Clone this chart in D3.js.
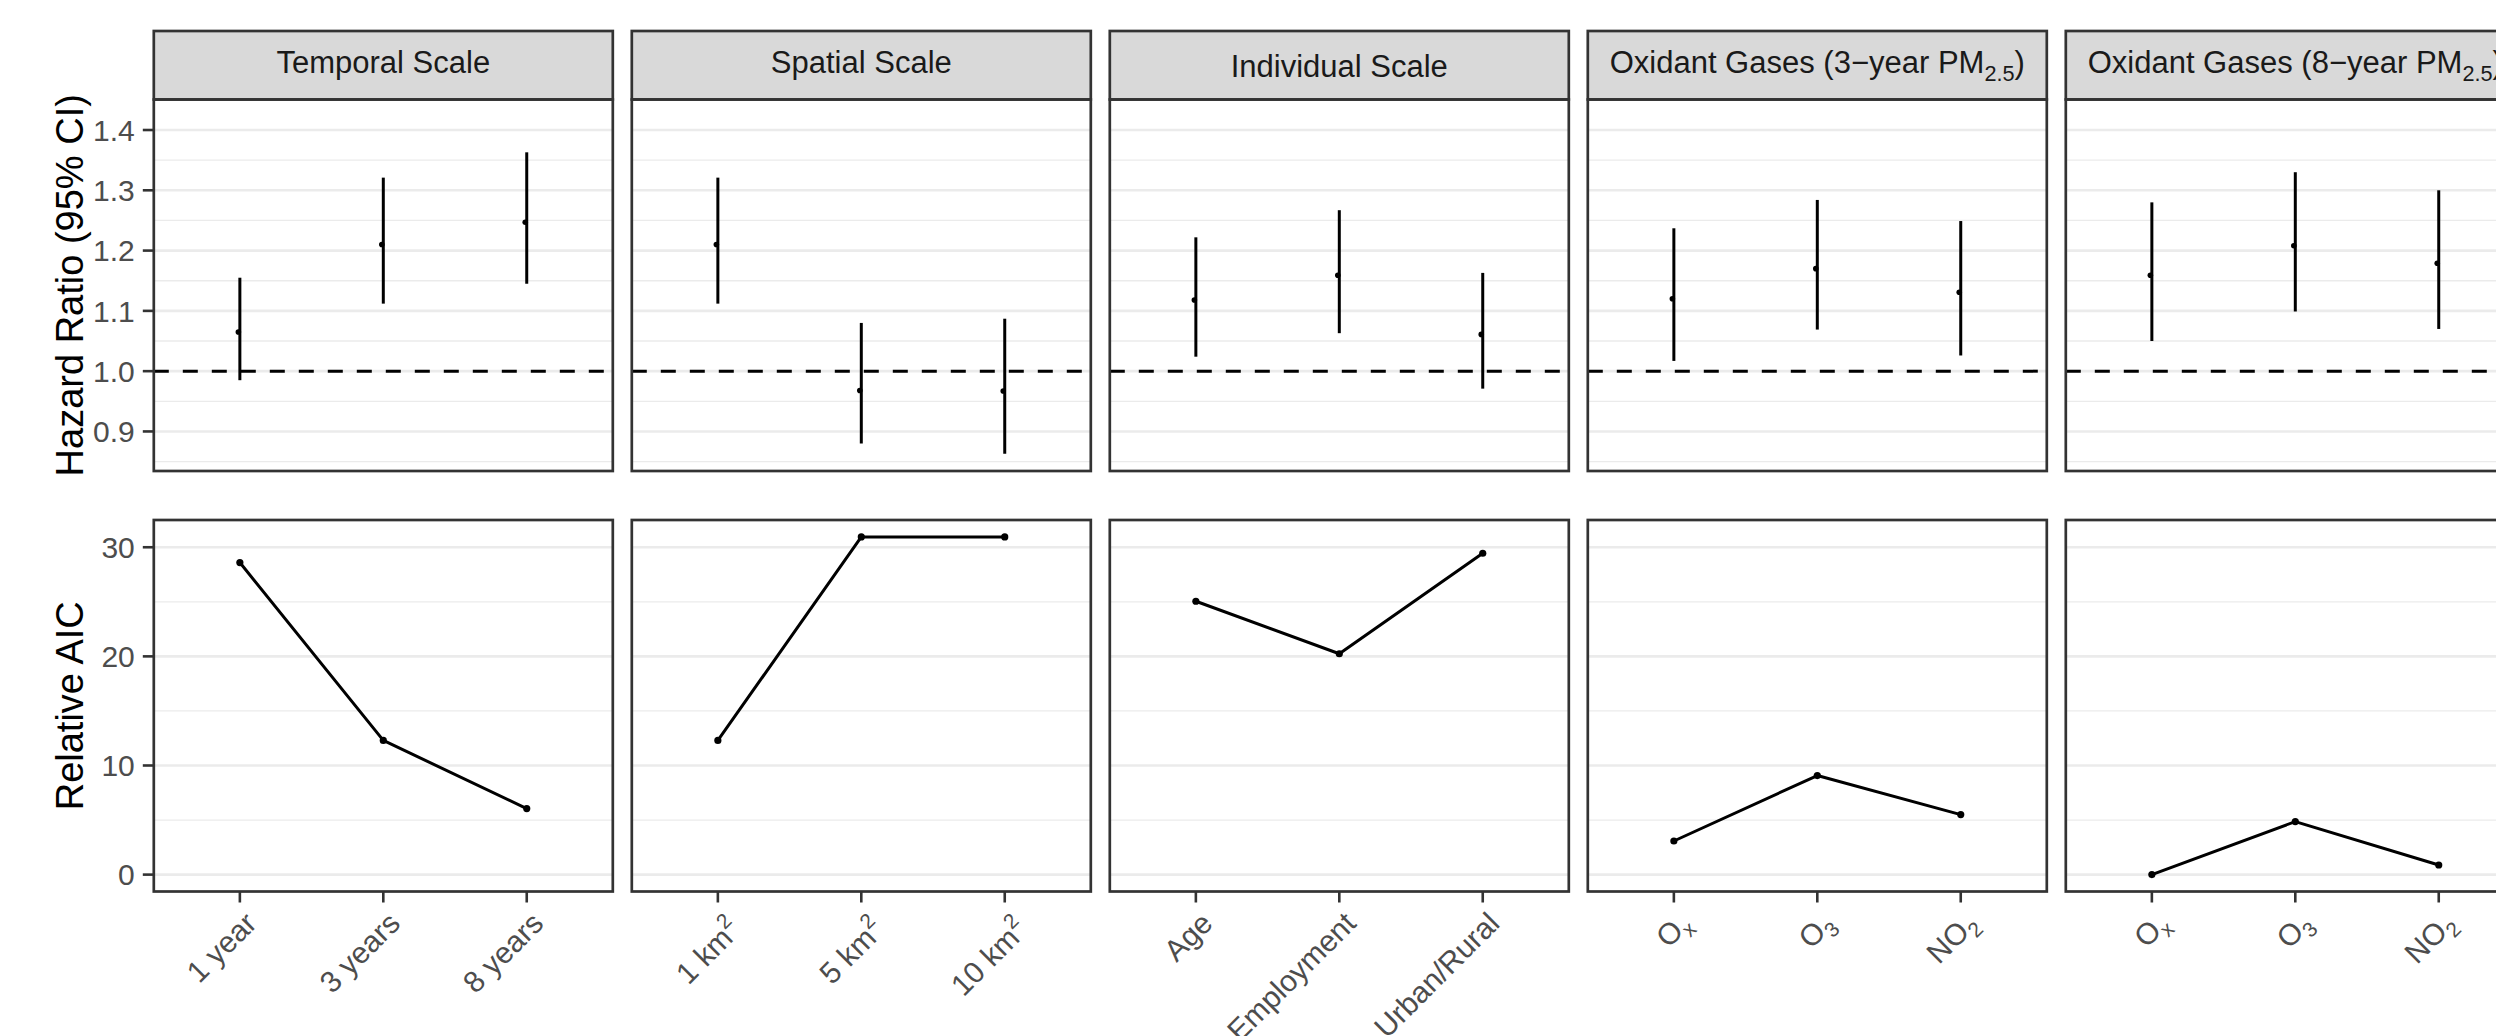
<!DOCTYPE html>
<html>
<head>
<meta charset="utf-8">
<script src="https://cdn.jsdelivr.net/npm/d3@7"></script>
<style>
  html, body { margin: 0; padding: 0; background: #fff; }
  svg { display: block; font-family: "Liberation Sans", Arial, Helvetica, sans-serif; }
</style>
</head>
<body>
<div id="chart"></div>
<script>
// Facet titles. _{..} = subscript, ^{..} = superscript
const facets = [
    'Temporal Scale',
    'Spatial Scale',
    'Individual Scale',
    'Oxidant Gases (3\u2212year PM_{2.5})',
    'Oxidant Gases (8\u2212year PM_{2.5})'
];

// Categories on the x axis of each facet
const temporalCats = ['1 year', '3 years', '8 years'];
const spatialCats = ['1 km^{2}', '5 km^{2}', '10 km^{2}'];
const individualCats = ['Age', 'Employment', 'Urban/Rural'];
const oxidantCats = ['O_{x}', 'O_{3}', 'NO_{2}'];

// Hazard ratios (point estimate, lower and upper 95% CI)
const temporalHR = [1.065, 1.210, 1.247];
const temporalLo = [0.985, 1.112, 1.145];
const temporalHi = [1.155, 1.321, 1.363];

const spatialHR = [1.210, 0.968, 0.967];
const spatialLo = [1.112, 0.880, 0.863];
const spatialHi = [1.321, 1.080, 1.087];

const individualHR = [1.118, 1.159, 1.061];
const individualLo = [1.024, 1.063, 0.971];
const individualHi = [1.222, 1.267, 1.163];

const oxidant3HR = [1.120, 1.170, 1.131];
const oxidant3Lo = [1.017, 1.069, 1.026];
const oxidant3Hi = [1.237, 1.284, 1.249];

const oxidant8HR = [1.159, 1.208, 1.179];
const oxidant8Lo = [1.050, 1.099, 1.070];
const oxidant8Hi = [1.280, 1.330, 1.300];

// Relative AIC
const temporalAIC = [28.6, 12.3, 6.05];
const spatialAIC = [12.3, 30.95, 30.95];
const individualAIC = [25.05, 20.24, 29.45];
const oxidant3AIC = [3.08, 9.08, 5.5];
const oxidant8AIC = [0, 4.86, 0.88];

// Axis breaks and shared HR limits
const hrLimits = [0.8624, 1.4226];
const hrTicks = [0.9, 1.0, 1.1, 1.2, 1.3, 1.4];
const hrMinor = [0.85, 0.95, 1.05, 1.15, 1.25, 1.35];
const aicTicks = [0, 10, 20, 30];
const aicMinor = [5, 15, 25];
const refLine = 1.0;

// Layout
const W = 2496, H = 1036;
const PANEL_LEFT = 153.8, PANEL_W = 459, PANEL_STEP = 478;
const STRIP_TOP = 31, STRIP_BOTTOM = 99.5;
const TOP_ROW = [99.5, 471];
const BOT_ROW = [520, 891.5];
const TICK = 11;
const FONT_TICK = 30, FONT_STRIP = 31, FONT_TITLE = 38;
const GREY20 = '#333333', GREY30 = '#4D4D4D', GRID = '#EBEBEB';

const panelCats = [temporalCats, spatialCats, individualCats, oxidantCats, oxidantCats];
const panelHR = [
    { est: temporalHR, lo: temporalLo, hi: temporalHi },
    { est: spatialHR, lo: spatialLo, hi: spatialHi },
    { est: individualHR, lo: individualLo, hi: individualHi },
    { est: oxidant3HR, lo: oxidant3Lo, hi: oxidant3Hi },
    { est: oxidant8HR, lo: oxidant8Lo, hi: oxidant8Hi }
];
const panelAIC = [temporalAIC, spatialAIC, individualAIC, oxidant3AIC, oxidant8AIC];

// ggplot-like 5% expansion
function expand(lo, hi, mult = 0.05) {
    const d = (hi - lo) * mult;
    return [lo - d, hi + d];
}

const allAIC = panelAIC.flat();
const hrY = d3.scaleLinear().domain(expand(hrLimits[0], hrLimits[1])).range([TOP_ROW[1], TOP_ROW[0]]);
const aicY = d3.scaleLinear().domain(expand(d3.min(allAIC), d3.max(allAIC))).range([BOT_ROW[1], BOT_ROW[0]]);

const svg = d3.select('#chart')
    .append('svg')
    .attr('width', W)
    .attr('height', H);

// Tight glyph box, used to centre strip text like grid does
const ctx = document.createElement('canvas').getContext('2d');
function tightMid(str, size) {
    ctx.font = `${size}px "Liberation Sans", Arial, sans-serif`;
    const m = ctx.measureText(str.replace(/[_^]\{([^}]*)\}/g, '$1'));
    return (m.actualBoundingBoxAscent - m.actualBoundingBoxDescent) / 2;
}

// Append label text with sub/superscripts as tspans
function addRich(textSel, label, size) {
    const parts = label.split(/(_\{[^}]*\}|\^\{[^}]*\})/).filter(s => s.length);
    let shift = 0;
    parts.forEach(p => {
        const t = textSel.append('tspan');
        if (p.startsWith('_{') || p.startsWith('^{')) {
            const s = p.startsWith('_{') ? 0.25 * size : -0.45 * size;
            t.text(p.slice(2, -1)).attr('font-size', size * 0.7).attr('dy', s - shift);
            shift = s;
        } else {
            t.text(p);
            if (shift) t.attr('dy', -shift);
            shift = 0;
        }
    });
}

function hLines(g, values, scale, width, strokeW) {
    g.selectAll(null)
        .data(values)
        .enter()
        .append('line')
        .attr('x1', 0)
        .attr('x2', width)
        .attr('y1', d => scale(d))
        .attr('y2', d => scale(d))
        .attr('stroke', GRID)
        .attr('stroke-width', strokeW);
}

facets.forEach((title, i) => {
    const x0 = PANEL_LEFT + i * PANEL_STEP;
    const cats = panelCats[i];
    const xScale = d3.scalePoint().domain(cats).range([0, PANEL_W]).padding(0.6);

    // ---- strip ----
    svg.append('rect')
        .attr('x', x0)
        .attr('y', STRIP_TOP)
        .attr('width', PANEL_W)
        .attr('height', STRIP_BOTTOM - STRIP_TOP)
        .attr('fill', '#D9D9D9')
        .attr('stroke', GREY20)
        .attr('stroke-width', 2.7);

    const stripText = svg.append('text')
        .attr('x', x0 + PANEL_W / 2)
        .attr('y', (STRIP_TOP + STRIP_BOTTOM) / 2 + tightMid(title, FONT_STRIP))
        .attr('text-anchor', 'middle')
        .attr('font-size', FONT_STRIP)
        .attr('fill', '#1A1A1A');
    addRich(stripText, title, FONT_STRIP);

    // ---- top row: hazard ratios ----
    const top = svg.append('g').attr('transform', `translate(${x0},0)`);
    hLines(top, hrMinor.filter(v => hrY(v) > TOP_ROW[0] && hrY(v) < TOP_ROW[1]), hrY, PANEL_W, 1.3);
    hLines(top, hrTicks, hrY, PANEL_W, 2.6);

    top.append('line')
        .attr('x1', 0)
        .attr('x2', PANEL_W)
        .attr('y1', hrY(refLine))
        .attr('y2', hrY(refLine))
        .attr('stroke', '#000')
        .attr('stroke-width', 3)
        .attr('stroke-dasharray', '15,14');

    const hr = panelHR[i];
    const hrData = cats.map((c, k) => ({ cat: c, est: hr.est[k], lo: hr.lo[k], hi: hr.hi[k] }));

    top.selectAll('.ci')
        .data(hrData)
        .enter()
        .append('line')
        .attr('class', 'ci')
        .attr('x1', d => xScale(d.cat))
        .attr('x2', d => xScale(d.cat))
        .attr('y1', d => hrY(d.lo))
        .attr('y2', d => hrY(d.hi))
        .attr('stroke', '#000')
        .attr('stroke-width', 3);

    top.selectAll('.est')
        .data(hrData)
        .enter()
        .append('circle')
        .attr('class', 'est')
        .attr('cx', d => xScale(d.cat) - 1.5)
        .attr('cy', d => hrY(d.est))
        .attr('r', 2.8)
        .attr('fill', '#000');

    top.append('rect')
        .attr('x', 0)
        .attr('y', TOP_ROW[0])
        .attr('width', PANEL_W)
        .attr('height', TOP_ROW[1] - TOP_ROW[0])
        .attr('fill', 'none')
        .attr('stroke', GREY20)
        .attr('stroke-width', 2.7);

    // ---- bottom row: relative AIC ----
    const bot = svg.append('g').attr('transform', `translate(${x0},0)`);
    hLines(bot, aicMinor, aicY, PANEL_W, 1.3);
    hLines(bot, aicTicks, aicY, PANEL_W, 2.6);

    const aicData = cats.map((c, k) => ({ cat: c, v: panelAIC[i][k] }));
    const line = d3.line().x(d => xScale(d.cat)).y(d => aicY(d.v));

    bot.append('path')
        .datum(aicData)
        .attr('d', line)
        .attr('fill', 'none')
        .attr('stroke', '#000')
        .attr('stroke-width', 3)
        .attr('stroke-linejoin', 'round');

    bot.selectAll('.pt')
        .data(aicData)
        .enter()
        .append('circle')
        .attr('class', 'pt')
        .attr('cx', d => xScale(d.cat))
        .attr('cy', d => aicY(d.v))
        .attr('r', 3.6)
        .attr('fill', '#000');

    bot.append('rect')
        .attr('x', 0)
        .attr('y', BOT_ROW[0])
        .attr('width', PANEL_W)
        .attr('height', BOT_ROW[1] - BOT_ROW[0])
        .attr('fill', 'none')
        .attr('stroke', GREY20)
        .attr('stroke-width', 2.7);

    // x ticks + rotated labels
    cats.forEach(c => {
        const tx = xScale(c);
        bot.append('line')
            .attr('x1', tx)
            .attr('x2', tx)
            .attr('y1', BOT_ROW[1])
            .attr('y2', BOT_ROW[1] + TICK)
            .attr('stroke', GREY20)
            .attr('stroke-width', 2.6);

        const extra = c.includes('^{') ? 0.3 : 0;
        const lab = bot.append('text')
            .attr('transform', `translate(${tx},${BOT_ROW[1] + TICK}) rotate(-45)`)
            .attr('text-anchor', 'end')
            .attr('dx', '-0.1em')
            .attr('dy', `${0.97 + extra}em`)
            .attr('font-size', FONT_TICK)
            .attr('fill', GREY30);
        addRich(lab, c, FONT_TICK);
    });
});

// ---- y axes (left column only) ----
function yAxis(scale, ticks, fmt) {
    const g = svg.append('g');
    ticks.forEach(t => {
        g.append('line')
            .attr('x1', PANEL_LEFT - TICK)
            .attr('x2', PANEL_LEFT)
            .attr('y1', scale(t))
            .attr('y2', scale(t))
            .attr('stroke', GREY20)
            .attr('stroke-width', 2.6);
        g.append('text')
            .attr('x', PANEL_LEFT - TICK - 8)
            .attr('y', scale(t))
            .attr('dy', '0.36em')
            .attr('text-anchor', 'end')
            .attr('font-size', FONT_TICK)
            .attr('fill', GREY30)
            .text(fmt(t));
    });
}
yAxis(hrY, hrTicks, d3.format('.1f'));
yAxis(aicY, aicTicks, d3.format('d'));

// axis titles
function yTitle(text, rowRange) {
    const cy = (rowRange[0] + rowRange[1]) / 2;
    svg.append('text')
        .attr('transform', `translate(83,${cy}) rotate(-90)`)
        .attr('text-anchor', 'middle')
        .attr('font-size', FONT_TITLE)
        .attr('fill', '#000')
        .text(text);
}
yTitle('Hazard Ratio (95% CI)', TOP_ROW);
yTitle('Relative AIC', BOT_ROW);
</script>
</body>
</html>
